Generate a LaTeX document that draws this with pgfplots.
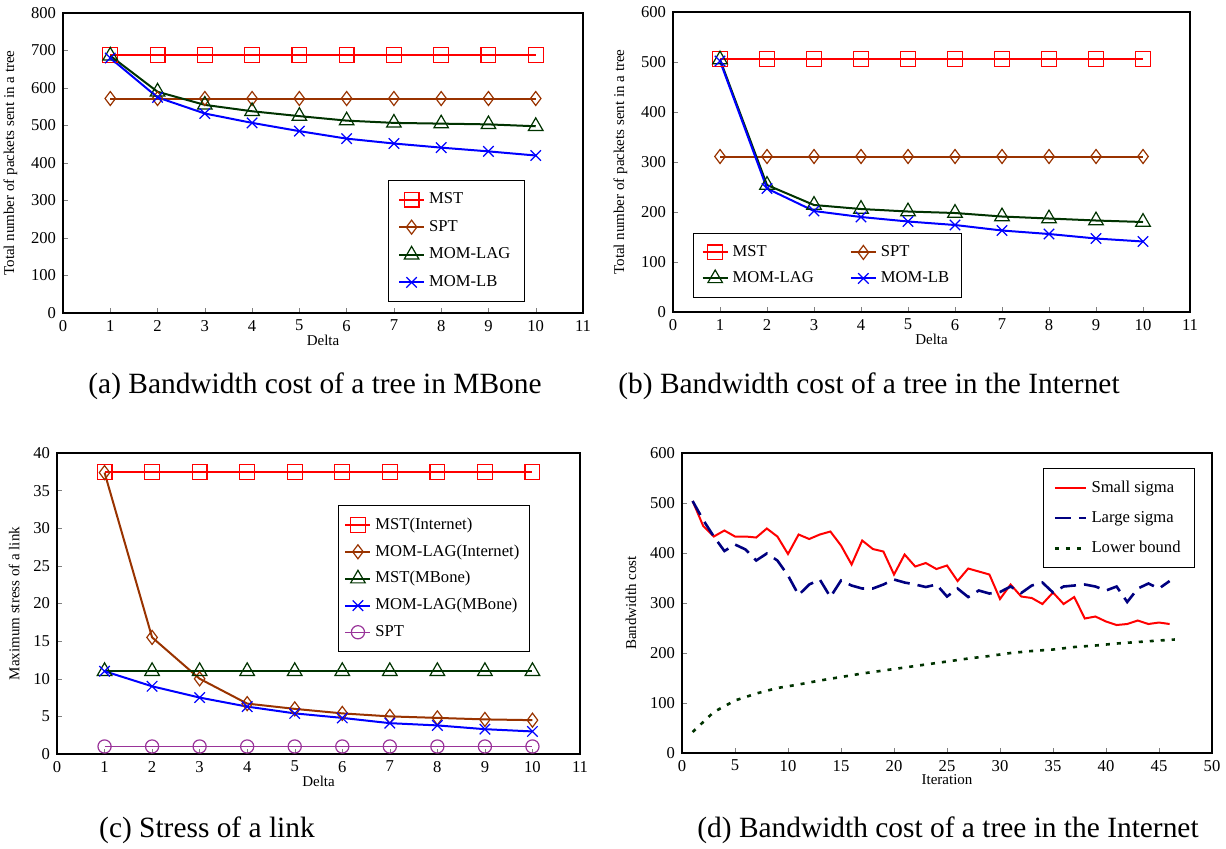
\documentclass[border=0pt]{standalone}
\usepackage{fontspec}
\setmainfont{Liberation Serif}
\usepackage{pgfplots}
\pgfplotsset{compat=1.18}

\definecolor{mstred}{RGB}{255,0,0}
\definecolor{sptbrown}{RGB}{153,51,0}
\definecolor{lagreen}{RGB}{0,51,0}
\definecolor{lbblue}{RGB}{0,0,255}
\definecolor{sptpurple}{RGB}{153,51,153}
\definecolor{navy}{RGB}{0,0,128}

\pgfplotsset{
  panel/.style={
    scale only axis, axis line style={line width=1pt},
    /pgf/number format/assume math mode=true,
    tick label style={font=\fontsize{8.3}{9}\selectfont},
    label style={font=\fontsize{7.5}{9}\selectfont},
    tick align=inside, major tick length=2.5pt,
    xtick pos=left, ytick pos=left,
    legend style={font=\fontsize{8.3}{10}\selectfont, draw=black, line width=0.5pt,
      row sep=2.8pt, inner xsep=3pt, inner ysep=4pt, cells={anchor=west}},
    legend cell align=left,
    legend image code/.code={\draw[mark repeat=2,mark phase=2]
      plot coordinates {(0cm,0cm) (0.22cm,0cm) (0.44cm,0cm)};},
  },
  delta/.style={xmin=0, xmax=11, xtick={0,...,11}, xlabel={Delta},
    xlabel style={yshift=5pt}},
  mst/.style={mstred, line width=1pt, mark=square, mark size=3.7pt, mark options={fill=white, line width=0.6pt}},
  spt/.style={sptbrown, line width=1pt, mark=diamond, mark size=3.5pt, mark options={fill=white, line width=0.6pt}},
  lag/.style={lagreen, line width=1pt, mark=triangle, mark size=4.2pt, mark options={fill=white, line width=0.6pt}},
  lb/.style={lbblue, line width=1pt, mark=x, mark size=3.7pt, mark options={line width=0.6pt}},
}

\begin{document}
\begin{tikzpicture}
\useasboundingbox (0,0) rectangle (613pt,-424pt);

% (a)
\begin{axis}[panel, delta, at={(31.5pt,-156.5pt)}, anchor=south west,
  width=260pt, height=150pt,
  ymin=0, ymax=800, ytick={0,100,...,800},
  ylabel={Total number of packets sent in a tree},
  legend style={at={(0.888,0.443)}, anchor=north east, inner xsep=5pt},
]
\addplot[mst] coordinates {(1,688)(2,688)(3,688)(4,688)(5,688)(6,688)(7,688)(8,688)(9,688)(10,688)};
\addplot[spt] coordinates {(1,572)(2,572)(3,572)(4,572)(5,572)(6,572)(7,572)(8,572)(9,572)(10,572)};
\addplot[lag] coordinates {(1,686)(2,590)(3,555)(4,538)(5,525)(6,513)(7,507)(8,505)(9,503)(10,498)};
\addplot[lb] coordinates {(1,680)(2,575)(3,532)(4,507)(5,485)(6,465)(7,452)(8,441)(9,431)(10,420)};
\legend{MST,SPT,MOM-LAG,MOM-LB}
\end{axis}

% (b)
\begin{axis}[panel, delta, at={(336.5pt,-156pt)}, anchor=south west,
  width=258.5pt, height=150pt,
  ymin=0, ymax=600, ytick={0,100,...,600},
  ylabel={Total number of packets sent in a tree},
  legend columns=2,
  legend style={at={(0.039,0.047)}, anchor=south west, row sep=2pt, inner xsep=4pt,
    /tikz/every even column/.append style={column sep=16pt}},
]
\addplot[mst] coordinates {(1,506)(2,506)(3,506)(4,506)(5,506)(6,506)(7,506)(8,506)(9,506)(10,506)};
\addplot[spt] coordinates {(1,311)(2,311)(3,311)(4,311)(5,311)(6,311)(7,311)(8,311)(9,311)(10,311)};
\addplot[lag] coordinates {(1,505)(2,254)(3,214)(4,206)(5,201)(6,198)(7,191)(8,187)(9,183)(10,180)};
\addplot[lb] coordinates {(1,502)(2,247)(3,202)(4,190)(5,181)(6,174)(7,163)(8,156)(9,147)(10,141)};
\legend{MST,SPT,MOM-LAG,MOM-LB}
\end{axis}

% (c)
\begin{axis}[panel, delta, at={(28.5pt,-377pt)}, anchor=south west,
  width=261.5pt, height=150.5pt,
  ymin=0, ymax=40, ytick={0,5,...,40},
  ylabel={Maximum stress of a link},
  legend style={at={(0.904,0.827)}, anchor=north east, row sep=2.2pt},
]
\addplot[mst] coordinates {(1,37.5)(2,37.5)(3,37.5)(4,37.5)(5,37.5)(6,37.5)(7,37.5)(8,37.5)(9,37.5)(10,37.5)};
\addplot[spt] coordinates {(1,37.4)(2,15.5)(3,10)(4,6.7)(5,6.0)(6,5.4)(7,5.0)(8,4.8)(9,4.6)(10,4.5)};
\addplot[lag] coordinates {(1,11)(2,11)(3,11)(4,11)(5,11)(6,11)(7,11)(8,11)(9,11)(10,11)};
\addplot[lb] coordinates {(1,11)(2,9)(3,7.5)(4,6.3)(5,5.4)(6,4.8)(7,4.1)(8,3.8)(9,3.3)(10,3.0)};
\addplot[sptpurple, line width=0.6pt, mark=o, mark size=3.3pt, mark options={fill=white}] coordinates {(1,1)(2,1)(3,1)(4,1)(5,1)(6,1)(7,1)(8,1)(9,1)(10,1)};
\legend{MST(Internet),MOM-LAG(Internet),MST(MBone),MOM-LAG(MBone),SPT}
\end{axis}

% (d)
\begin{axis}[panel, at={(341pt,-376.5pt)}, anchor=south west,
  width=265pt, height=150pt,
  xmin=0, xmax=50, xtick={0,5,...,50}, xlabel={Iteration}, xlabel style={yshift=5pt},
  ymin=0, ymax=600, ytick={0,100,...,600},
  ylabel={Bandwidth cost},
  legend style={at={(0.968,0.95)}, anchor=north east, row sep=4pt, inner xsep=5pt},
  legend image code/.code={\draw plot coordinates {(0cm,0cm) (0.55cm,0cm)};},
]
\addplot[mstred, line width=1pt] coordinates {
(1,504)(2,454)(3,433)(4,445)(5,433)(6,433)(7,431)(8,449)(9,433)(10,398)
(11,437)(12,428)(13,437)(14,443)(15,415)(16,377)(17,425)(18,408)(19,403)(20,357)
(21,397)(22,373)(23,380)(24,368)(25,375)(26,344)(27,369)(28,363)(29,357)(30,308)
(31,337)(32,313)(33,310)(34,298)(35,321)(36,298)(37,312)(38,269)(39,273)(40,263)
(41,256)(42,258)(43,265)(44,258)(45,261)(46,258)};
\addplot[navy, line width=1.3pt, dash pattern=on 8pt off 4pt] coordinates {
(1,504)(2,466)(3,433)(4,404)(5,417)(6,407)(7,385)(8,399)(9,385)(10,355)
(11,316)(12,337)(13,347)(14,312)(15,345)(16,335)(17,329)(18,329)(19,337)(20,347)
(21,341)(22,337)(23,332)(24,337)(25,313)(26,329)(27,312)(28,325)(29,319)(30,322)
(31,333)(32,320)(33,335)(34,341)(35,321)(36,333)(37,335)(38,337)(39,333)(40,325)
(41,333)(42,302)(43,329)(44,339)(45,329)(46,344)};
\addplot[lagreen, line width=1.3pt, dash pattern=on 2pt off 3.5pt] coordinates {
(1,42)(3,82)(5,105)(7,119)(9,130)(11,137)(13,145)(15,152)(17,159)(19,165)
(21,171)(23,177)(25,183)(27,189)(29,194)(31,200)(33,204)(35,207)(37,212)(39,215)
(41,219)(43,222)(45,225)(46.5,227)};
\legend{Small sigma,Large sigma,Lower bound}
\end{axis}

% captions
\node[font=\fontsize{14.7}{16}\selectfont] at (157.5pt,-193pt) {(a) Bandwidth cost of a tree in MBone};
\node[font=\fontsize{14.7}{16}\selectfont] at (434.5pt,-193pt) {(b) Bandwidth cost of a tree in the Internet};
\node[font=\fontsize{14.7}{16}\selectfont] at (103.5pt,-415pt) {(c) Stress of a link};
\node[font=\fontsize{14.7}{16}\selectfont] at (474pt,-415pt) {(d) Bandwidth cost of a tree in the Internet};
\end{tikzpicture}
\end{document}
